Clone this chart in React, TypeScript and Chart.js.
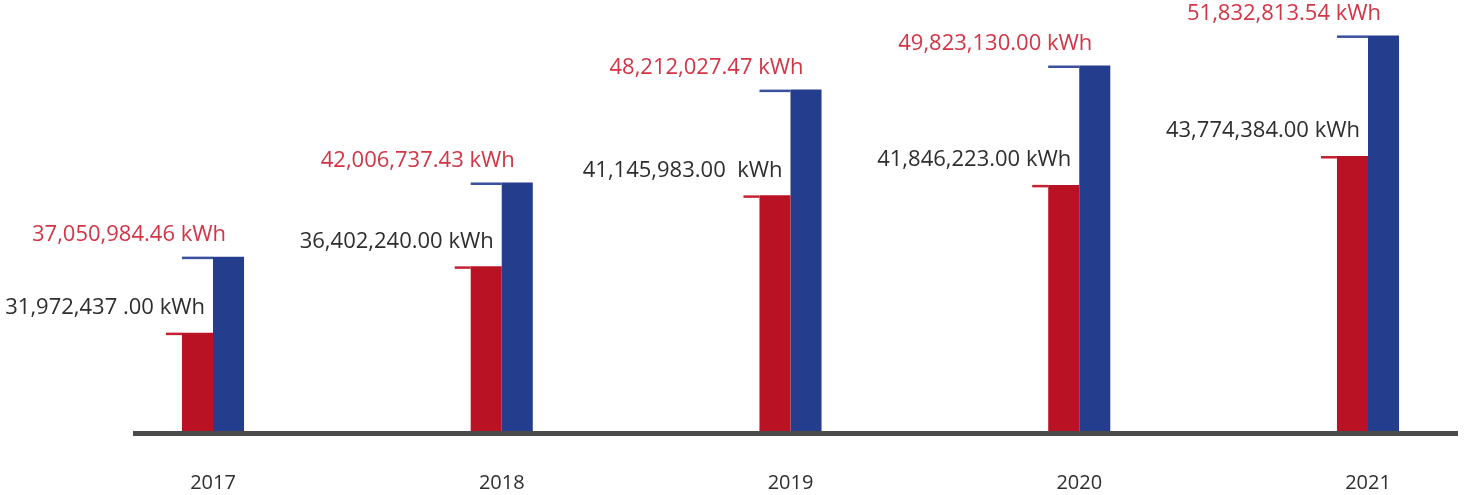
import React, { useEffect, useRef } from 'react';
import { Chart, registerables } from 'chart.js';

Chart.register(...registerables);

const years = ['2017', '2018', '2019', '2020', '2021'];
const consumptionValues = [31972437.0, 36402240.0, 41145983.0, 41846223.0, 43774384.0];
const generationValues = [37050984.46, 42006737.43, 48212027.47, 49823130.0, 51832813.54];
const consumptionLabels = [
  '31,972,437 .00 kWh',
  '36,402,240.00 kWh',
  '41,145,983.00  kWh',
  '41,846,223.00 kWh',
  '43,774,384.00 kWh',
];
const generationLabels = [
  '37,050,984.46 kWh',
  '42,006,737.43 kWh',
  '48,212,027.47 kWh',
  '49,823,130.00 kWh',
  '51,832,813.54 kWh',
];
const yMin = 25400000;
const yMax = 54200000;

const RED = '#b91224';
const BLUE = '#243d8c';
const RED_TEXT = '#d23545';
const DARK_TEXT = '#2e2e2e';
const AXIS = '#4b4b4b';
const FONT = '"Open Sans", sans-serif';

const overlayPlugin = {
  id: 'overlay',
  afterDatasetsDraw(chart: any) {
    const ctx = chart.ctx as CanvasRenderingContext2D;
    const area = chart.chartArea;
    const redBars = chart.getDatasetMeta(0).data;
    const blueBars = chart.getDatasetMeta(1).data;
    ctx.save();
    // baseline axis
    ctx.fillStyle = AXIS;
    ctx.fillRect(area.left - 80, area.bottom, area.right - area.left + 170, 5);

    ctx.textBaseline = 'middle';
    for (let i = 0; i < years.length; i++) {
      const r = redBars[i];
      const b = blueBars[i];
      const rLeft = r.x - r.width / 2;
      const rRight = r.x + r.width / 2;
      const bLeft = b.x - b.width / 2;
      const bRight = b.x + b.width / 2;

      // leader lines
      ctx.fillStyle = '#c42234';
      ctx.fillRect(rLeft - 16, r.y, 16, 2.5);
      ctx.fillStyle = '#3a4f9e';
      ctx.fillRect(rLeft, b.y, bLeft - rLeft, 2.5);

      // value labels
      ctx.font = `22px ${FONT}`;
      ctx.textAlign = 'right';
      ctx.fillStyle = RED_TEXT;
      ctx.fillText(generationLabels[i], bRight - 18, b.y - 22);
      ctx.fillStyle = DARK_TEXT;
      ctx.fillText(consumptionLabels[i], rRight - 8, r.y - 25);

      // year labels
      ctx.font = `20px ${FONT}`;
      ctx.textAlign = 'center';
      ctx.fillStyle = DARK_TEXT;
      ctx.fillText(years[i], (rRight + bLeft) / 2, area.bottom + 52);
    }
    ctx.restore();
  },
};

export default function App() {
  const canvasRef = useRef<HTMLCanvasElement | null>(null);

  useEffect(() => {
    document.body.style.margin = '0';
    const canvas = canvasRef.current;
    if (!canvas) return;
    const barClip = { left: 100, right: 100, top: 0, bottom: 0 };
    const chart = new Chart(canvas, {
      type: 'bar',
      data: {
        labels: years,
        datasets: [
          {
            label: 'Consumption',
            data: consumptionValues,
            backgroundColor: RED,
            borderWidth: 0,
            categoryPercentage: 0.215,
            barPercentage: 1,
            clip: barClip,
          },
          {
            label: 'Generation',
            data: generationValues,
            backgroundColor: BLUE,
            borderWidth: 0,
            categoryPercentage: 0.215,
            barPercentage: 1,
            clip: barClip,
          },
        ],
      },
      options: {
        responsive: false,
        animation: false,
        layout: { padding: { left: 213, right: 98, top: 0, bottom: 64 } },
        plugins: {
          legend: { display: false },
          tooltip: { enabled: false },
        },
        scales: {
          x: { display: false, offset: false, grid: { display: false } },
          y: { display: false, min: yMin, max: yMax },
        },
      },
      plugins: [overlayPlugin],
    });
    return () => chart.destroy();
  }, []);

  return (
    <div style={{ width: 1466, height: 495, background: '#ffffff' }}>
      <canvas ref={canvasRef} width={1466} height={495} style={{ display: 'block' }} />
    </div>
  );
}
